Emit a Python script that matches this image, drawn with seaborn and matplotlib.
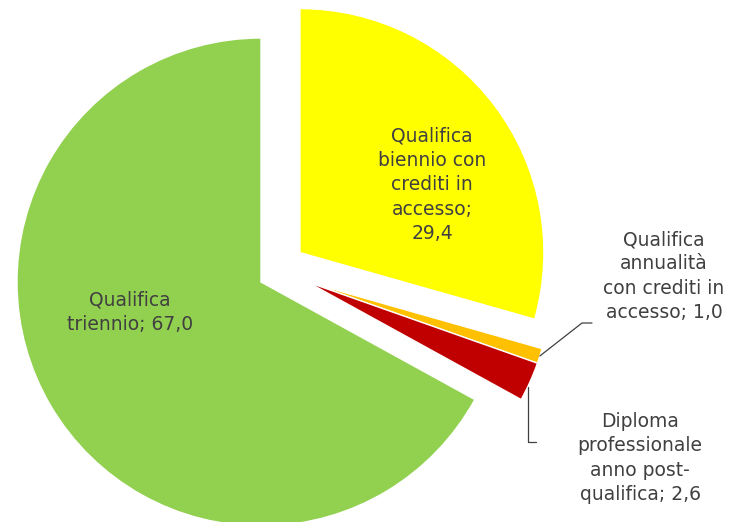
import numpy as np
import matplotlib
matplotlib.use("Agg")
import matplotlib.pyplot as plt
import seaborn as sns

# slice data, clockwise from 12 o'clock
labels = [
    "Qualifica\nbiennio con\ncrediti in\naccesso;\n29,4",
    "Qualifica\nannualità\ncon crediti in\naccesso; 1,0",
    "Diploma\nprofessionale\nanno post-\nqualifica; 2,6",
    "Qualifica\ntriennio; 67,0",
]
values = [29.4, 1.0, 2.6, 67.0]
colors = ["#FFFF00", "#FFC000", "#C00000", "#92D050"]
explode = [0.2, 0.0, 0.0, 0.0]
# the two small slices are pulled out sideways in the original
side_shift = [0.0, 0.19, 0.19, 0.0]

sns.set_theme(style="white")
plt.rcParams["font.family"] = ["DejaVu Sans"]
text_color = "#404040"

fig = plt.figure(figsize=(7.45, 5.22), dpi=100)
ax = fig.add_axes([0, 0, 1, 1])

wedges, _ = ax.pie(
    values,
    colors=colors,
    explode=explode,
    startangle=90,
    counterclock=False,
    radius=1.0,
    wedgeprops=dict(linewidth=1, edgecolor="white"),
)
for w, s in zip(wedges, side_shift):
    if s:
        cx, cy = w.center
        w.set_center((cx + s, cy))

# frame: 1 data unit ~ 244 px, pie centre at (261, 282) px
px = 244.0
ax.set_xlim(-261 / px, (745 - 261) / px)
ax.set_ylim(-(522 - 282) / px, 282 / px)
ax.set_aspect("equal")
ax.axis("off")


def to_data(x, y):
    return (x - 261) / px, (282 - y) / px


def outer_point(w, frac=0.5):
    t = np.deg2rad(w.theta1 + frac * (w.theta2 - w.theta1))
    cx, cy = w.center
    return cx + w.r * np.cos(t), cy + w.r * np.sin(t)


fs = 13.5
ax.text(*to_data(432, 185), labels[0], ha="center", va="center",
        fontsize=fs, color=text_color, linespacing=1.35)
ax.text(*to_data(130, 312), labels[3], ha="center", va="center",
        fontsize=fs, color=text_color, linespacing=1.35)
ax.text(*to_data(664, 276), labels[1], ha="center", va="center",
        fontsize=fs, color=text_color, linespacing=1.35)
ax.text(*to_data(640, 458), labels[2], ha="center", va="center",
        fontsize=fs, color=text_color, linespacing=1.35)

# leader lines
ox, oy = outer_point(wedges[1])
e1 = to_data(582, 323)
e2 = to_data(592, 323)
ax.plot([ox, e1[0], e2[0]], [oy, e1[1], e2[1]], color="#404040", lw=0.9)

rx, ry = outer_point(wedges[2], 0.35)
d1 = to_data(0, 442)
d2 = to_data(rx * px + 261 + 8, 442)
ax.plot([rx, rx, d2[0]], [ry, d1[1], d2[1]], color="#404040", lw=0.9)

fig.savefig("out.png", dpi=100, facecolor="white")
